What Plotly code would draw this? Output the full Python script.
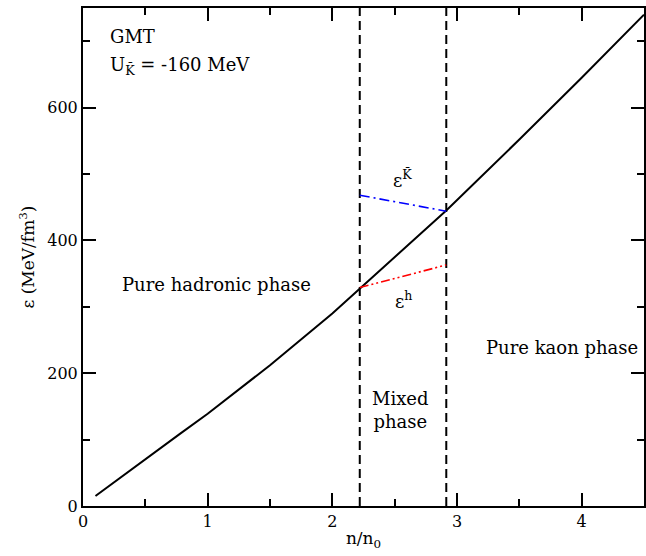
import plotly.graph_objects as go

# Data
n_curve = [0.1, 0.5, 0.78, 1.0, 1.18, 1.5, 2.0, 2.22, 2.5, 2.914, 3.5, 4.0, 4.5]
eps_curve = [15, 71, 109, 139, 165, 212, 290, 327, 374, 445, 552, 645, 740]
phase_bounds = [2.22, 2.914]
eps_kbar_n = [2.22, 2.914]
eps_kbar = [468, 444]
eps_h_n = [2.22, 2.914]
eps_h = [329, 363]
x_ticks = [0, 1, 2, 3, 4]
y_ticks = [0, 200, 400, 600]

FONT = "DejaVu Serif"
ANN_SIZE = 18

fig = go.Figure()
fig.add_trace(go.Scatter(x=n_curve, y=eps_curve, mode="lines",
                         line=dict(color="black", width=2),
                         showlegend=False))
for xb in phase_bounds:
    fig.add_trace(go.Scatter(x=[xb, xb], y=[0, 750], mode="lines",
                             line=dict(color="black", width=2, dash="9px,5px"),
                             showlegend=False))
fig.add_trace(go.Scatter(x=eps_kbar_n, y=eps_kbar, mode="lines",
                         line=dict(color="blue", width=1.6, dash="10px,4px,2px,4px"),
                         showlegend=False))
fig.add_trace(go.Scatter(x=eps_h_n, y=eps_h, mode="lines",
                         line=dict(color="red", width=1.6, dash="9px,3px,2px,3px,2px,3px"),
                         showlegend=False))

def ann(x, y, text, xanchor="center", size=ANN_SIZE):
    fig.add_annotation(x=x, y=y, text=text, showarrow=False, xanchor=xanchor,
                       yanchor="middle", font=dict(family=FONT, size=size, color="black"))

ann(0.2, 707, "GMT", xanchor="left")
ann(0.2, 662, "U<sub>K\u0304</sub> = -160 MeV", xanchor="left")
ann(1.07, 334, "Pure hadronic phase")
ann(3.84, 239, "Pure kaon phase")
ann(2.55, 144, "Mixed<br>phase")
ann(2.56, 492, "\u03b5<sup>K\u0304</sup>")
ann(2.57, 310, "\u03b5<sup>h</sup>")

x_step = x_ticks[1] - x_ticks[0]
y_step = y_ticks[1] - y_ticks[0]
common = dict(showline=True, linecolor="black", linewidth=2, mirror="allticks",
              ticks="inside", ticklen=13, tickwidth=2, tickcolor="black",
              showgrid=False, zeroline=False,
              tickfont=dict(family=FONT, size=16, color="black"))
fig.update_layout(
    xaxis=dict(range=[0, 4.5], tick0=x_ticks[0], dtick=x_step,
               minor=dict(tick0=x_ticks[0], dtick=x_step / 2, ticks="inside", ticklen=7,
                          tickwidth=2, tickcolor="black", showgrid=False),
               title=dict(text="n/n<sub>0</sub>", font=dict(family=FONT, size=17, color="black"), standoff=2),
               **common),
    yaxis=dict(range=[0, 750], tick0=y_ticks[0], dtick=y_step,
               minor=dict(tick0=y_ticks[0], dtick=y_step / 2, ticks="inside", ticklen=7,
                          tickwidth=2, tickcolor="black", showgrid=False),
               title=dict(text="\u03b5 (MeV/fm<sup>3</sup>)", font=dict(family=FONT, size=17, color="black"), standoff=8),
               **common),
    width=646, height=556, plot_bgcolor="white", paper_bgcolor="white",
    margin=dict(l=83, r=2, t=8, b=50, autoexpand=False),
    font=dict(family=FONT, color="black"))
fig.write_html("out.html", config={"displayModeBar": False},
               post_script="document.body.style.margin='0';document.body.style.padding='0';"
                           "Plotly.relayout(document.getElementById('{plot_id}'),{width:646,height:556});")
